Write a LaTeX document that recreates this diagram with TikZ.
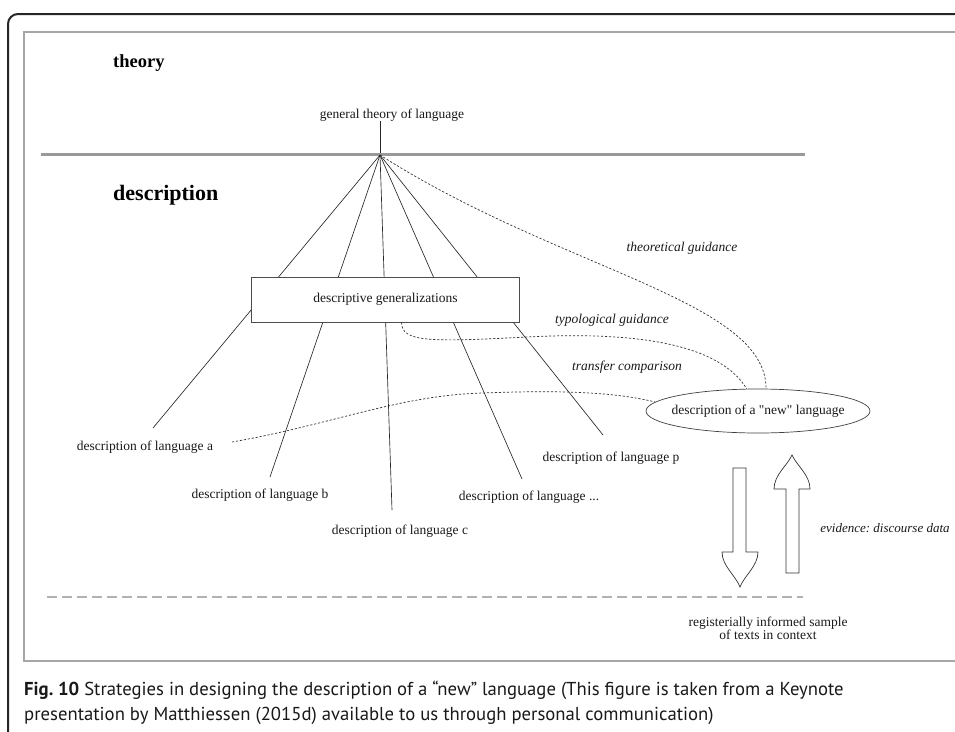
\documentclass[tikz,border=0pt]{standalone}
\usepackage{fontspec}
\setmainfont{Liberation Serif}
\newfontfamily\plainserif{Liberation Serif}
\newfontfamily\capfont{PT Sans}
\usetikzlibrary{shapes.geometric}
\frenchspacing
\begin{document}
\begin{tikzpicture}[x=1pt,y=-1pt,
  ray/.style={draw=black!85, line width=0.65pt},
  guide/.style={draw=black!80, line width=0.7pt, dash pattern=on 2.2pt off 1.8pt},
  lbl/.style={font=\fontsize{13.5}{14}\selectfont, inner sep=0pt, text=black!90},
  ilbl/.style={font=\fontsize{13.5}{14}\selectfont\itshape, inner sep=0pt, text=black!90},
  blockarrow/.style={draw=black!80, line width=0.7pt, fill=white},
  captxt/.style={anchor=west, inner sep=0pt, font=\capfont\fontsize{18.7}{20}\selectfont, text=black!90}]
\useasboundingbox (0,0) rectangle (955,731);
% frames
\draw[line width=2pt, black!85, rounded corners=10pt] (8,745) -- (8,14) -- (970,14);
\draw[line width=1.2pt, black!35] (970,32) -- (24,32) -- (24,661) -- (970,661);
% headings
\node[font=\fontsize{18.5}{20}\selectfont\bfseries, anchor=west, inner sep=0pt] (th) at (113,63) {theory};
\node[font=\fontsize{22}{24}\selectfont\bfseries, anchor=west, inner sep=0pt] (de) at (113,195) {description};
% apex and divider
\coordinate (apex) at (380,155);
\node[lbl] (gt) at (392,115) {general theory of language};
\draw[ray] (gt.south -| apex) -- (apex);
\draw[line width=3pt, black!40] (41,154) -- (805,154);
% rays
\coordinate (ea) at (153,428);
\coordinate (eb) at (270,477);
\coordinate (ec) at (392,510);
\coordinate (ed) at (522,479);
\coordinate (ep) at (603,435);
\foreach \e in {ea,eb,ec,ed,ep} \draw[ray] (apex) -- (\e);
% box
\node[lbl, draw=black!70, line width=0.7pt, fill=white, minimum width=268pt, minimum height=45pt] (gen) at (385.5,299.5) {descriptive generalizations};
% language labels
\node[lbl] (la) at (145,447) {description of language a};
\node[lbl] (lb) at (260,495) {description of language b};
\node[lbl] (lc) at (400,531) {description of language c};
\node[lbl] (ld) at (529,497) {description of language ...};
\node[lbl] (lp) at (611,458) {description of language p};
% new language
\node[draw=black!75, line width=0.7pt, ellipse, minimum width=224pt, minimum height=44pt, inner sep=0pt] (nl) at (758,411) {};
\node[lbl] (nlt) at (nl) {\plainserif description of a "new" language};
% guides
\coordinate (ta) at (232,442);
\draw[guide] (apex) .. controls (560,270) and (766,300) .. (nl.70);
\draw[guide] ([xshift=16pt]gen.south) .. controls +(0,20) and (430,342) .. (527,337) .. controls (640,331) and (720,345) .. (nl.117);
\draw[guide] (ta) .. controls (330,425) and (400,395) .. (483,393) .. controls (560,390) and (615,392) .. (nl.175);
\node[ilbl] (tg) at (682,248) {theoretical guidance};
\node[ilbl] (tyg) at (612,320) {typological guidance};
\node[ilbl] (tc) at (627,367) {transfer comparison};
\node[ilbl, font=\fontsize{13}{14}\selectfont\itshape] (ev) at (885,528) {evidence: discourse data};
% block arrows
\draw[blockarrow] (733,468) -- (746,468) -- (746,552) -- (758,552) .. controls (758,566) and (744,576) .. (740,587) .. controls (736,576) and (722,566) .. (722,552) -- (733,552) -- cycle;
\draw[blockarrow] (786,573) -- (799,573) -- (799,489) -- (810,489) .. controls (810,475) and (797,466) .. (792,455) .. controls (787,466) and (774,475) .. (774,489) -- (786,489) -- cycle;
% data line
\draw[black!30, line width=1.5pt, dash pattern=on 10pt off 5pt] (47,597) -- (803,597);
\node[lbl, align=center, font=\fontsize{13.5}{13}\selectfont] (smp) at (768,628) {registerially informed sample\\of texts in context};
% caption
\node[captxt] (cap1) at (24,690) {\textbf{Fig. 10} Strategies in designing the description of a “new” language (This figure is taken from a Keynote};
\node[captxt] (cap2) at (24,716) {presentation by Matthiessen (2015d) available to us through personal communication)};
\end{tikzpicture}
\end{document}
